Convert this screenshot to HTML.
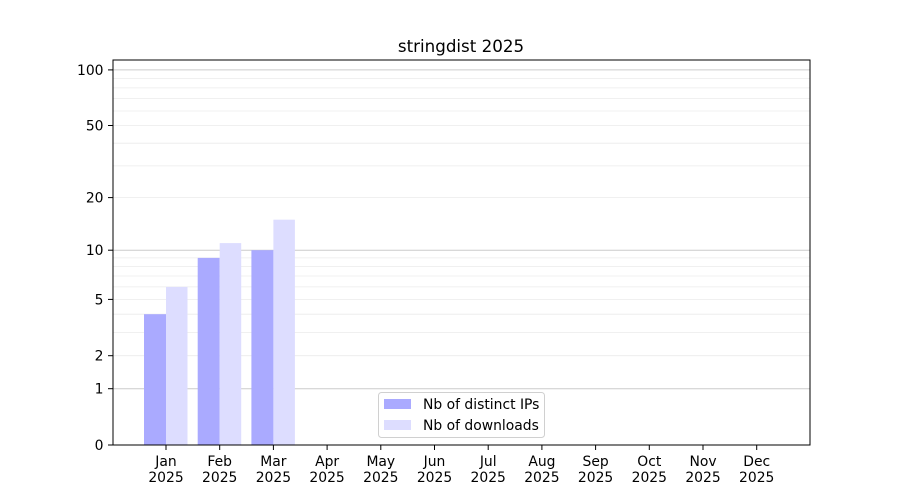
<!DOCTYPE html>
<html><head><meta charset="utf-8"><style>body{margin:0;background:#fff}svg{display:block}text{font-family:"DejaVu Sans","Liberation Sans",sans-serif;fill:#000}</style></head>
<body>
<svg width="900" height="500" viewBox="0 0 900 500" xmlns="http://www.w3.org/2000/svg">
<rect width="900" height="500" fill="#fff"/>
<g stroke="#ebebeb" stroke-width="0.8">
<line x1="113" x2="810" y1="355.7" y2="355.7"/><line x1="113" x2="810" y1="332.4" y2="332.4"/><line x1="113" x2="810" y1="314.2" y2="314.2"/><line x1="113" x2="810" y1="299.4" y2="299.4"/><line x1="113" x2="810" y1="286.9" y2="286.9"/><line x1="113" x2="810" y1="276.0" y2="276.0"/><line x1="113" x2="810" y1="266.5" y2="266.5"/><line x1="113" x2="810" y1="257.9" y2="257.9"/>
<line x1="113" x2="810" y1="197.6" y2="197.6"/><line x1="113" x2="810" y1="165.9" y2="165.9"/><line x1="113" x2="810" y1="143.2" y2="143.2"/><line x1="113" x2="810" y1="125.5" y2="125.5"/><line x1="113" x2="810" y1="111.0" y2="111.0"/><line x1="113" x2="810" y1="98.6" y2="98.6"/><line x1="113" x2="810" y1="87.9" y2="87.9"/><line x1="113" x2="810" y1="78.4" y2="78.4"/>
</g>
<g stroke="#cccccc" stroke-width="1">
<line x1="113" x2="810" y1="388.7" y2="388.7"/><line x1="113" x2="810" y1="250.2" y2="250.2"/><line x1="113" x2="810" y1="69.9" y2="69.9"/>
</g>
<g fill="#aaaaff">
<rect x="144" y="314.2" width="22" height="130.8"/>
<rect x="197.7" y="257.9" width="22" height="187.1"/>
<rect x="251.4" y="250.2" width="22" height="194.8"/>
</g>
<g fill="#ddddff">
<rect x="166" y="286.9" width="21.5" height="158.1"/>
<rect x="219.7" y="243.1" width="21.5" height="201.9"/>
<rect x="273.4" y="219.7" width="21.5" height="225.3"/>
</g>
<rect x="113" y="60" width="697" height="385" fill="none" stroke="#000" stroke-width="1"/>
<g stroke="#000" stroke-width="1">
<line x1="108" x2="113" y1="445" y2="445"/><line x1="108" x2="113" y1="388.7" y2="388.7"/><line x1="108" x2="113" y1="355.7" y2="355.7"/><line x1="108" x2="113" y1="299.4" y2="299.4"/><line x1="108" x2="113" y1="250.2" y2="250.2"/><line x1="108" x2="113" y1="197.6" y2="197.6"/><line x1="108" x2="113" y1="125.5" y2="125.5"/><line x1="108" x2="113" y1="69.9" y2="69.9"/>
</g>
<g font-size="13.9" text-anchor="end">
<text x="103.5" y="450">0</text><text x="103.5" y="393.7">1</text><text x="103.5" y="360.7">2</text><text x="103.5" y="304.4">5</text><text x="103.5" y="255.2">10</text><text x="103.5" y="202.6">20</text><text x="103.5" y="130.5">50</text><text x="103.5" y="74.9">100</text>
</g>
<g stroke="#000" stroke-width="1">
<line x1="166" x2="166" y1="445" y2="450"/><line x1="219.7" x2="219.7" y1="445" y2="450"/><line x1="273.4" x2="273.4" y1="445" y2="450"/><line x1="327.1" x2="327.1" y1="445" y2="450"/><line x1="380.8" x2="380.8" y1="445" y2="450"/><line x1="434.5" x2="434.5" y1="445" y2="450"/><line x1="488.2" x2="488.2" y1="445" y2="450"/><line x1="541.9" x2="541.9" y1="445" y2="450"/><line x1="595.6" x2="595.6" y1="445" y2="450"/><line x1="649.3" x2="649.3" y1="445" y2="450"/><line x1="703" x2="703" y1="445" y2="450"/><line x1="756.7" x2="756.7" y1="445" y2="450"/>
</g>
<g font-size="13.9" text-anchor="middle">
<text x="166" y="466">Jan</text><text x="166" y="482">2025</text>
<text x="219.7" y="466">Feb</text><text x="219.7" y="482">2025</text>
<text x="273.4" y="466">Mar</text><text x="273.4" y="482">2025</text>
<text x="327.1" y="466">Apr</text><text x="327.1" y="482">2025</text>
<text x="380.8" y="466">May</text><text x="380.8" y="482">2025</text>
<text x="434.5" y="466">Jun</text><text x="434.5" y="482">2025</text>
<text x="488.2" y="466">Jul</text><text x="488.2" y="482">2025</text>
<text x="541.9" y="466">Aug</text><text x="541.9" y="482">2025</text>
<text x="595.6" y="466">Sep</text><text x="595.6" y="482">2025</text>
<text x="649.3" y="466">Oct</text><text x="649.3" y="482">2025</text>
<text x="703" y="466">Nov</text><text x="703" y="482">2025</text>
<text x="756.7" y="466">Dec</text><text x="756.7" y="482">2025</text>
</g>
<text x="461" y="52" font-size="16.7" text-anchor="middle">stringdist 2025</text>
<rect x="378.5" y="392.5" width="166" height="45" rx="3" fill="#fff" fill-opacity="0.8" stroke="#d0d0d0"/>
<rect x="384" y="399" width="27" height="10" fill="#aaaaff"/>
<rect x="384" y="420" width="27" height="10" fill="#ddddff"/>
<text x="423" y="409" font-size="13.9">Nb of distinct IPs</text>
<text x="423" y="430" font-size="13.9">Nb of downloads</text>
</svg>
</body></html>
